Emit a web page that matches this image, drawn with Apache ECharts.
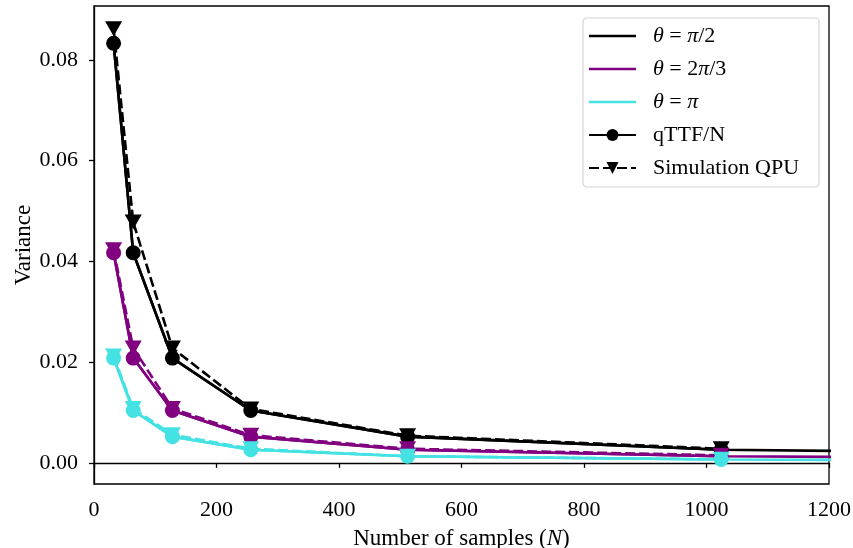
<!DOCTYPE html>
<html>
<head>
<meta charset="utf-8">
<script src="https://cdn.jsdelivr.net/npm/echarts@6/dist/echarts.min.js"></script>
<style>
  html, body { margin: 0; padding: 0; background: #fff; }
  #chart { width: 853px; height: 548px; }
</style>
</head>
<body>
<div id="chart"></div>
<script>
// Sample sizes at which variance was evaluated
const samplesTheory = [32, 64, 128, 256, 512, 1024, 2048];
const samplesMeasured = [32, 64, 128, 256, 512, 1024];

// Theoretical variance curves for each angle
const theoryHalfPi = [0.0833, 0.0417, 0.0208, 0.0104, 0.0052, 0.0026, 0.0013];
const theoryTwoThirdsPi = [0.0417, 0.0208, 0.0104, 0.0052, 0.0026, 0.0013, 0.00065];
const theoryPi = [0.0208, 0.0104, 0.0052, 0.0026, 0.0013, 0.00065, 0.00033];

// qTTF/N estimates
const qttfHalfPi = [0.0833, 0.0417, 0.0208, 0.0104, 0.0052, 0.0026];
const qttfTwoThirdsPi = [0.0417, 0.0208, 0.0104, 0.0052, 0.0026, 0.0013];
const qttfPi = [0.0208, 0.0104, 0.0052, 0.0026, 0.0013, 0.00065];

// Simulated QPU runs
const simHalfPi = [0.0862, 0.0478, 0.0228, 0.0107, 0.0054, 0.0028];
const simTwoThirdsPi = [0.0423, 0.0228, 0.0108, 0.0055, 0.0028, 0.0015];
const simPi = [0.0212, 0.0108, 0.0056, 0.0028, 0.0013, 0.0007];

// Axis ticks
const xTicks = [0, 200, 400, 600, 800, 1000, 1200];
const yTicks = [0, 0.02, 0.04, 0.06, 0.08];

const legendLabels = {
  theta1: '{i|θ} = {i|π}/2',
  theta2: '{i|θ} = 2{i|π}/3',
  theta3: '{i|θ} = {i|π}',
  'qTTF/N': 'qTTF/N',
  'Simulation QPU': 'Simulation QPU'
};

const BLACK = '#000000';
const PURPLE = '#800080';
const CYAN = '#44E2E2';
const FONT = '"Liberation Serif", "DejaVu Serif", serif';
const LW = 2.6;
// plain line handle for the legend (framed so that it keeps a 47x15 box)
const LINE_ICON = 'path://M0,0h0.01v0.01h-0.01z M0,6.2h47v2.6h-47z M46.99,15h0.01v0.01h-0.01z';

function pairs(xs, ys) { return xs.map((x, i) => [x, ys[i]]); }

function theory(name, color, ys) {
  return {
    name, type: 'line', data: pairs(samplesTheory, ys),
    symbol: 'none', color,
    lineStyle: { color, width: LW }, animation: false
  };
}
function qttf(color, ys) {
  return {
    name: 'qTTF/N', type: 'line', data: pairs(samplesMeasured, ys),
    symbol: 'circle', symbolSize: 15, color,
    itemStyle: { color }, lineStyle: { color, width: LW }, animation: false
  };
}
function sim(color, ys) {
  return {
    name: 'Simulation QPU', type: 'line', data: pairs(samplesMeasured, ys),
    symbol: 'triangle', symbolSize: [17, 15], symbolRotate: 180, color,
    itemStyle: { color },
    lineStyle: { color, width: LW, type: [10, 4] }, animation: false
  };
}

const chart = echarts.init(document.getElementById('chart'), null, { renderer: 'canvas' });

const richItalic = size => ({ i: { fontFamily: FONT, fontStyle: 'italic', fontSize: size, color: '#000', lineHeight: size } });

chart.setOption({
  animation: false,
  backgroundColor: '#fff',
  textStyle: { fontFamily: FONT },
  grid: {
    left: 94, right: 24, top: 6, bottom: 64,
    outerBoundsMode: 'none', containLabel: false,
    show: true, borderColor: '#000', borderWidth: 1.3, backgroundColor: 'transparent'
  },
  legend: {
    data: [
      { name: 'theta1', icon: LINE_ICON },
      { name: 'theta2', icon: LINE_ICON },
      { name: 'theta3', icon: LINE_ICON },
      { name: 'qTTF/N' },
      { name: 'Simulation QPU' }
    ],
    orient: 'vertical',
    left: 583, top: 18,
    padding: [7, 20, 8, 5],
    itemWidth: 47, itemHeight: 15, itemGap: 11,
    backgroundColor: 'rgba(255,255,255,0.85)',
    borderColor: '#d4d4d4', borderWidth: 1.2, borderRadius: 4,
    formatter: n => legendLabels[n],
    textStyle: {
      fontFamily: FONT, fontSize: 22, lineHeight: 22, color: '#000', padding: [0, 0, 0, 12],
      rich: richItalic(22)
    }
  },
  xAxis: {
    type: 'value', min: 0, max: 1200, interval: 200,
    name: 'Number of samples ({i|N})',
    nameLocation: 'middle', nameGap: 43, nameMoveOverlap: false,
    nameTextStyle: {
      fontFamily: FONT, fontSize: 23, color: '#000',
      rich: richItalic(23)
    },
    axisLine: { show: true, lineStyle: { color: '#000', width: 1.3 } },
    axisTick: { show: true, length: 5, lineStyle: { color: '#000', width: 1.3 } },
    axisLabel: { color: '#000', fontSize: 22, fontFamily: FONT, margin: 15,
      formatter: v => (xTicks.includes(v) ? String(v) : '') },
    splitLine: { show: false }
  },
  yAxis: {
    type: 'value', min: -0.0042, max: 0.0907,
    name: 'Variance', nameLocation: 'middle', nameGap: 59, nameMoveOverlap: false,
    nameTextStyle: { fontFamily: FONT, fontSize: 23, color: '#000' },
    axisLine: { show: true, lineStyle: { color: '#000', width: 1.3 } },
    axisTick: { show: true, length: 5, customValues: yTicks, lineStyle: { color: '#000', width: 1.3 } },
    axisLabel: { color: '#000', fontSize: 22, fontFamily: FONT, margin: 16,
      customValues: yTicks, formatter: v => v.toFixed(2) },
    splitLine: { show: false }
  },
  series: [
    theory('theta1', BLACK, theoryHalfPi),
    qttf(BLACK, qttfHalfPi),
    sim(BLACK, simHalfPi),
    theory('theta2', PURPLE, theoryTwoThirdsPi),
    qttf(PURPLE, qttfTwoThirdsPi),
    sim(PURPLE, simTwoThirdsPi),
    theory('theta3', CYAN, theoryPi),
    qttf(CYAN, qttfPi),
    sim(CYAN, simPi)
  ]
});
</script>
</body>
</html>
